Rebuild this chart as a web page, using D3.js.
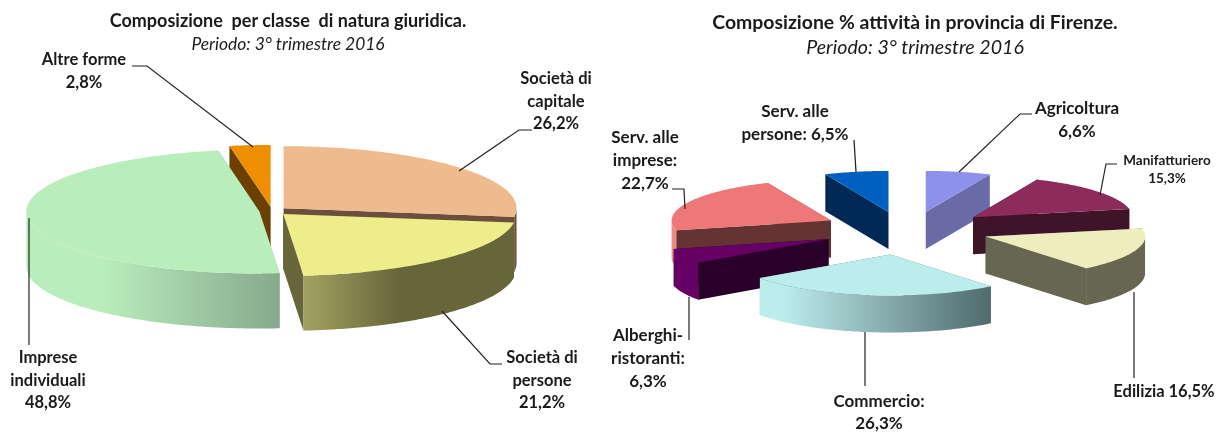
<!DOCTYPE html>
<html>
<head>
<meta charset="utf-8">
<script src="https://cdn.jsdelivr.net/npm/d3@7"></script>
<style>
  html, body { margin: 0; background: #fff; }
  svg { filter: blur(0.35px); }
  text { font-family: Lato, "Open Sans", sans-serif; font-weight: 700; fill: #1a1a1a; text-anchor: middle; white-space: pre; }
  .sub { font-weight: 400; font-style: italic; }
  .leader { fill: none; stroke: #222; stroke-width: 1.2; }
</style>
</head>
<body>
<svg class="main" width="1217" height="432"></svg>
<script>
// left chart
const giuridicaCategories = ["Società di capitale", "Società di persone", "Imprese individuali", "Altre forme"];
const giuridicaValues = [26.2, 21.2, 48.8, 2.8];

// right chart
const attivitaCategories = ["Agricoltura", "Manifatturiero", "Edilizia", "Commercio", "Alberghi-ristoranti", "Serv. alle imprese", "Serv. alle persone"];
const attivitaValues = [6.6, 15.3, 16.5, 26.3, 6.3, 22.7, 6.5];

const main = d3.select(".main");
const defs = main.append("defs");

function pie3d(opts) {
  const { categories, values, center, rx, ry, depth, pull, nudge, squeeze, twist, top, cut, wall } = opts;
  const g = main.append("g");

  // unit circle -> screen, the ellipse is just two linear scales
  const sx = d3.scaleLinear().domain([-1, 1]).range([-rx, rx]);
  const sy = d3.scaleLinear().domain([-1, 1]).range([-ry, ry]);
  const line = d3.line();

  const slices = d3.pie().sort(null).value(d => d)(values).map((s, i) => {
    const mid = (s.startAngle + s.endAngle) / 2;
    return {
      ...s,
      i,
      mid,
      ox: center[0] + sx(pull[i] * Math.sin(mid)) + nudge[i],
      oy: center[1] - sy(pull[i] * Math.cos(mid))
    };
  });

  // back slices first
  slices.sort((a, b) => Math.cos(b.mid) - Math.cos(a.mid));

  slices.forEach(s => {
    // the original's front half is pinched and turned a little, not a true ellipse mapping
    const warp = a => {
      if (Math.cos(a) >= 0) return a;
      const t = a - twist * Math.cos(a);
      return Math.atan2(squeeze * Math.sin(t), Math.cos(t));
    };
    const at = (a, dz = 0) => {
      const w = warp(a);
      return [s.ox + sx(Math.sin(w)), s.oy - sy(Math.cos(w)) + dz];
    };
    const apex = [s.ox, s.oy];
    const step = Math.PI / 180;

    [s.startAngle, s.endAngle].forEach(a => {
      const shape = [apex, at(a), at(a, depth), [apex[0], apex[1] + depth]];
      g.append("path")
        .attr("d", line(shape) + "Z")
        .attr("fill", cut[s.i]);
    });

    // outer wall, only the part that faces front
    const a0 = Math.max(s.startAngle, Math.PI / 2);
    const a1 = Math.min(s.endAngle, Math.PI * 1.5);
    if (a1 > a0) {
      const angles = d3.range(a0, a1, step).concat(a1);
      const shape = angles.map(a => at(a)).concat(angles.slice().reverse().map(a => at(a, depth)));
      g.append("path")
        .attr("d", line(shape) + "Z")
        .attr("fill", wallFill(categories[s.i], wall[s.i]));
    }

    const angles = d3.range(s.startAngle, s.endAngle, step).concat(s.endAngle);
    g.append("path")
      .attr("d", line([apex].concat(angles.map(a => at(a)))) + "Z")
      .attr("fill", top[s.i]);
  });
}

function wallFill(name, stops) {
  if (typeof stops === "string") return stops;
  const id = "wall-" + name.replace(/[^a-z]/gi, "");
  const grad = defs.append("linearGradient").attr("id", id);
  stops.forEach(([offset, color]) => {
    grad.append("stop").attr("offset", offset).attr("stop-color", color);
  });
  return `url(#${id})`;
}

function label(lines, x, y, size, lineHeight, leader) {
  const t = main.append("text").attr("font-size", size);
  lines.forEach((l, i) => {
    t.append("tspan").attr("x", x).attr("y", y + i * lineHeight).text(l);
  });
  if (leader) {
    main.append("path").attr("class", "leader").attr("d", d3.line()(leader));
  }
  return t;
}

pie3d({
  categories: giuridicaCategories,
  values: giuridicaValues,
  center: [272, 211],
  rx: 233,
  ry: 62,
  depth: 55,
  pull: [0.067, 0.067, 0.055, 0.065],
  nudge: [0, 0, 0, 0],
  squeeze: 0.65,
  twist: 0,
  top: ["#edbb8d", "#eded8b", "#b9edbc", "#ee8f00"],
  cut: ["#6b4f3c", "#67663b", "#89ab8e", "#6b4000"],
  wall: [
    "#6b4f3c",
    [[0, "#a3a161"], [0.45, "#67663b"], [1, "#67663b"]],
    [[0, "#b9edbc"], [0.3, "#b9edbc"], [1, "#87a98c"]],
    "#6b4000"
  ]
});

pie3d({
  categories: attivitaCategories,
  values: attivitaValues,
  center: [907, 230],
  rx: 159.4,
  ry: 41,
  depth: 37,
  pull: [0.45, 0.5, 0.5, 0.6, 0.5, 0.53, 0.45],
  nudge: [4, 4, 3, -8, -7, 0, -4],
  squeeze: 1,
  twist: 0.07,
  top: ["#8f8fec", "#8d2c5a", "#ededbe", "#bceded", "#660066", "#ee7777", "#0060bf"],
  cut: ["#6a6aa6", "#3f1428", "#676650", "#4f6a6d", "#2a002a", "#663333", "#002a55"],
  wall: [
    "#6a6aa6",
    "#3f1428",
    "#676650",
    [[0, "#bceded"], [0.1, "#bceded"], [1, "#4f6a6d"]],
    "#660066",
    "#ef8a80",
    "#002a55"
  ]
});

// titles
label(["Composizione  per classe  di natura giuridica."], 288, 27, 18, 0);
label(["Periodo: 3° trimestre 2016"], 288, 50, 17.4, 0).classed("sub", true);
label(["Composizione % attività in provincia di Firenze."], 915, 29, 19.4, 0);
label(["Periodo: 3° trimestre 2016"], 915, 54, 19.6, 0).classed("sub", true);

// left labels
label(["Altre forme", "2,8%"], 84, 65, 16.5, 23, [[132, 66], [147, 66], [253, 147]]);
label(["Società di", "capitale", "26,2%"], 556, 84, 16.5, 22.5, [[532, 130], [519, 130], [459, 171]]);
label(["Imprese", "individuali", "48,8%"], 48, 363, 16.5, 22.5, [[29, 218], [29, 345]]);
label(["Società di", "persone", "21,2%"], 542, 363, 16.5, 22.5, [[502, 364], [490, 364], [442, 311]]);

// right labels
label(["Serv. alle", "persone: 6,5%"], 795, 117, 17, 23, [[854, 140], [856, 172]]);
label(["Agricoltura", "6,6%"], 1077, 114, 17, 23, [[1032, 114], [1020, 114], [959, 172]]);
label(["Manifatturiero", "15,3%"], 1167, 165, 13.5, 18, [[1117, 164], [1106, 164], [1100, 195]]);
label(["Serv. alle", "imprese:", "22,7%"], 645, 143, 17, 23, [[672, 189], [684, 189], [685, 209]]);
label(["Alberghi-", "ristoranti:", "6,3%"], 648, 341, 17, 23, [[689, 297], [689, 340]]);
label(["Commercio:", "26,3%"], 879, 407, 17, 21.5, [[865, 332], [865, 386]]);
label(["Edilizia 16,5%"], 1164, 397, 16.5, 0, [[1134, 292], [1134, 378]]);
</script>
</body>
</html>
